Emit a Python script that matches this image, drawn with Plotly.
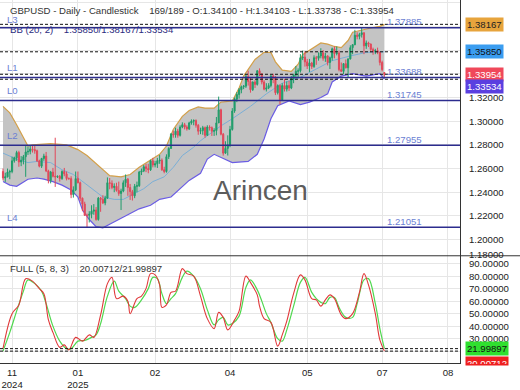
import plotly.graph_objects as go

# ---------------- data ----------------
opens = [
 1.2575,1.2520,1.2530,1.2570,1.2575,1.2665,1.2690,1.2735,1.2655,1.2670,
 1.2700,1.2740,1.2745,1.2765,1.2760,1.2750,1.2665,1.2620,1.2685,1.2705,
 1.2580,1.2500,1.2570,1.2535,1.2530,1.2535,1.2515,1.2575,1.2555,1.2515,
 1.2515,1.2380,1.2420,1.2515,1.2480,1.2350,1.2300,1.2205,1.2205,1.2215,
 1.2240,1.2250,1.2170,1.2350,1.2340,1.2310,1.2350,1.2480,1.2475,1.2440,
 1.2450,1.2415,1.2390,1.2410,1.2480,1.2510,1.2440,1.2405,1.2370,1.2450,
 1.2455,1.2570,1.2580,1.2615,1.2600,1.2590,1.2665,1.2630,1.2640,1.2665,
 1.2670,1.2590,1.2575,1.2700,1.2770,1.2890,1.2885,1.2915,1.2880,1.2950,
 1.2970,1.2950,1.2935,1.2985,1.3000,1.3005,1.2965,1.2915,1.2920,1.2945,
 1.2880,1.2950,1.2945,1.2915,1.2920,1.2985,1.3095,1.2890,1.2730,1.2770,
 1.2800,1.2930,1.3085,1.3185,1.3225,1.3265,1.3290,1.3295,1.3375,1.3335,
 1.3265,1.3330,1.3310,1.3425,1.3400,1.3330,1.3270,1.3280,1.3300,1.3380,
 1.3365,1.3240,1.3300,1.3180,1.3300,1.3270,1.3300,1.3280,1.3360,1.3390,
 1.3420,1.3425,1.3535,1.3540,1.3500,1.3465,1.3490,1.3460,1.3535,1.3530,
 1.3550,1.3575,1.3530,1.3550,1.3495,1.3535,1.3610,1.3570,1.3575,1.3435,
 1.3420,1.3485,1.3450,1.3525,1.3620,1.3645,1.3725,1.3715,1.3730,1.3745,
 1.3635,1.3660,1.3650,1.3605,1.3590,1.3595,1.3580,1.3495,1.34100]
highs = [
 1.2600,1.2565,1.2600,1.2590,1.2700,1.2700,1.2750,1.2750,1.2705,1.2715,
 1.2790,1.2785,1.2790,1.2795,1.2790,1.2760,1.2675,1.2690,1.2725,1.2740,
 1.2590,1.2580,1.2605,1.2860,1.2540,1.2545,1.2585,1.2605,1.2575,1.2525,
 1.2535,1.2450,1.2575,1.2575,1.2490,1.2355,1.2320,1.2220,1.2240,1.2290,
 1.2300,1.2275,1.2360,1.2360,1.2375,1.2370,1.2525,1.2520,1.2500,1.2475,
 1.2480,1.2490,1.2430,1.2500,1.2550,1.2520,1.2470,1.2420,1.2470,1.2490,
 1.2580,1.2600,1.2630,1.2640,1.2640,1.2675,1.2690,1.2665,1.2690,1.2715,
 1.2685,1.2615,1.2720,1.2780,1.2900,1.2920,1.2945,1.2935,1.2965,1.2990,
 1.2985,1.2965,1.2995,1.3015,1.3015,1.3015,1.2975,1.2945,1.2960,1.2955,
 1.2965,1.2965,1.2955,1.2940,1.3035,1.3207,1.3105,1.2900,1.2830,1.2880,
 1.2960,1.3110,1.3200,1.3245,1.3280,1.3300,1.3305,1.3395,1.3425,1.3370,
 1.3335,1.3345,1.3430,1.3445,1.3400,1.3345,1.3320,1.3320,1.3390,1.3400,
 1.3380,1.3310,1.3310,1.3320,1.3355,1.3335,1.3340,1.3380,1.3400,1.3465,
 1.3445,1.3565,1.3595,1.3590,1.3525,1.3525,1.3500,1.3555,1.3550,1.3580,
 1.3615,1.3600,1.3575,1.3555,1.3545,1.3620,1.3630,1.3630,1.3595,1.3495,
 1.3490,1.3520,1.3530,1.3640,1.3650,1.3770,1.3750,1.3745,1.3788,1.3750,
 1.3680,1.3670,1.3655,1.3620,1.3610,1.3620,1.3585,1.3510,1.34103]
lows = [
 1.2500,1.2487,1.2525,1.2510,1.2560,1.2650,1.2665,1.2615,1.2620,1.2635,
 1.2530,1.2715,1.2720,1.2735,1.2725,1.2655,1.2610,1.2605,1.2665,1.2570,
 1.2475,1.2475,1.2525,1.2445,1.2520,1.2490,1.2505,1.2535,1.2500,1.2505,
 1.2350,1.2355,1.2410,1.2475,1.2325,1.2240,1.2200,1.2100,1.2145,1.2180,
 1.2210,1.2160,1.2160,1.2235,1.2300,1.2290,1.2345,1.2425,1.2425,1.2400,
 1.2405,1.2370,1.2250,1.2400,1.2445,1.2370,1.2335,1.2330,1.2350,1.2400,
 1.2445,1.2545,1.2570,1.2570,1.2560,1.2580,1.2610,1.2610,1.2605,1.2640,
 1.2580,1.2560,1.2565,1.2680,1.2765,1.2860,1.2860,1.2860,1.2870,1.2940,
 1.2930,1.2920,1.2925,1.2970,1.2965,1.2945,1.2885,1.2890,1.2885,1.2860,
 1.2875,1.2920,1.2875,1.2875,1.2880,1.2985,1.2880,1.2709,1.2725,1.2710,
 1.2780,1.2920,1.3070,1.3160,1.3190,1.3235,1.3270,1.3280,1.3300,1.3240,
 1.3255,1.3280,1.3300,1.3380,1.3310,1.3260,1.3250,1.3270,1.3285,1.3320,
 1.3220,1.3225,1.3140,1.3170,1.3250,1.3250,1.3255,1.3270,1.3320,1.3365,
 1.3370,1.3410,1.3515,1.3460,1.3440,1.3415,1.3440,1.3450,1.3475,1.3510,
 1.3530,1.3510,1.3500,1.3470,1.3440,1.3510,1.3530,1.3555,1.3420,1.3415,
 1.3395,1.3445,1.3370,1.3520,1.3565,1.3640,1.3690,1.3690,1.3705,1.3565,
 1.3610,1.3625,1.3580,1.3560,1.3565,1.3565,1.3470,1.3420,1.33738]
closes = [
 1.2520,1.2530,1.2570,1.2575,1.2665,1.2690,1.2735,1.2655,1.2670,1.2700,
 1.2740,1.2745,1.2765,1.2760,1.2750,1.2665,1.2620,1.2685,1.2705,1.2580,
 1.2500,1.2570,1.2535,1.2530,1.2535,1.2515,1.2575,1.2555,1.2515,1.2515,
 1.2380,1.2420,1.2515,1.2480,1.2350,1.2300,1.2205,1.2205,1.2215,1.2240,
 1.2250,1.2170,1.2350,1.2340,1.2310,1.2350,1.2480,1.2475,1.2440,1.2450,
 1.2415,1.2390,1.2410,1.2480,1.2510,1.2440,1.2405,1.2370,1.2450,1.2455,
 1.2570,1.2580,1.2615,1.2600,1.2590,1.2665,1.2630,1.2640,1.2665,1.2670,
 1.2590,1.2575,1.2700,1.2770,1.2890,1.2885,1.2915,1.2880,1.2950,1.2970,
 1.2950,1.2935,1.2985,1.3000,1.3005,1.2965,1.2915,1.2920,1.2945,1.2880,
 1.2950,1.2945,1.2915,1.2920,1.2985,1.3095,1.2890,1.2730,1.2770,1.2800,
 1.2930,1.3085,1.3185,1.3225,1.3265,1.3290,1.3295,1.3375,1.3335,1.3265,
 1.3330,1.3310,1.3425,1.3400,1.3330,1.3270,1.3280,1.3300,1.3380,1.3365,
 1.3240,1.3300,1.3180,1.3300,1.3270,1.3300,1.3280,1.3360,1.3390,1.3420,
 1.3425,1.3535,1.3540,1.3500,1.3465,1.3490,1.3460,1.3535,1.3530,1.3550,
 1.3575,1.3530,1.3550,1.3495,1.3535,1.3610,1.3570,1.3575,1.3435,1.3420,
 1.3485,1.3450,1.3525,1.3620,1.3645,1.3725,1.3715,1.3730,1.3745,1.3635,
 1.3660,1.3650,1.3605,1.3590,1.3595,1.3580,1.3495,1.3435,1.33954]

# Bollinger band (20, 2) (bar index, value)
bb_up_x = [0,3,6,9,11,13,21,28,33,37,43,47,52,56,60,65,69,72,75,79,82,86,89,93,96,
           101,104,106,111,115,118,120,123,127,130,132,137,140,143,146,149,152,154,158,163,166,168]
bb_up = [1.3125,1.3070,1.2970,1.2860,1.2790,1.2800,1.2810,1.2800,1.2760,1.2710,
         1.2610,1.2540,1.2530,1.2550,1.2610,1.2670,1.2720,1.2790,1.2930,1.3040,
         1.3090,1.3120,1.3110,1.3110,1.3160,1.3170,1.3280,1.3380,1.3520,1.3580,
         1.3580,1.3500,1.3430,1.3420,1.3480,1.3560,1.3620,1.3660,1.3650,1.3630,
         1.3620,1.3680,1.3750,1.3770,1.3790,1.3800,1.38167]
bb_lo_x = [0,3,6,9,11,15,18,22,26,30,33,35,38,41,44,47,52,56,60,65,69,74,78,82,87,
           90,93,98,101,108,112,115,118,121,126,131,135,140,143,145,149,154,160,166,168]
bb_lo = [1.2490,1.2460,1.2450,1.2490,1.2510,1.2520,1.2510,1.2490,1.2460,1.2420,
         1.2360,1.2250,1.2170,1.2110,1.2100,1.2130,1.2180,1.2220,1.2260,1.2290,
         1.2340,1.2360,1.2430,1.2500,1.2560,1.2680,1.2720,1.2680,1.2650,1.2660,
         1.2720,1.2850,1.3020,1.3130,1.3170,1.3140,1.3160,1.3200,1.3230,1.3330,
         1.3380,1.3400,1.3380,1.3400,1.33534]
bb_mid_x = [0,6,11,15,21,26,31,35,40,44,49,53,57,62,66,71,75,79,84,87,96,101,109,
            116,123,131,138,145,153,160,168]
bb_mid = [1.2730,1.2680,1.2650,1.2660,1.2650,1.2590,1.2550,1.2490,1.2420,1.2360,
          1.2340,1.2340,1.2380,1.2430,1.2490,1.2530,1.2610,1.2710,1.2780,1.2835,
          1.2960,1.3020,1.3125,1.3230,1.3320,1.3370,1.3440,1.3510,1.3550,1.3580,1.3585]

# Full stochastic (5, 8, 3)
k_x = [0,4,7,10,13,16,18,20,22,25,27,29,32,35,38,40,43,46,48,50,53,55,56,59,61,63,65,67,69,70,
       72,74,76,79,81,84,87,90,93,95,97,99,102,104,107,109,112,113,115,118,121,123,125,128,131,
       133,136,138,140,142,144,146,149,151,154,157,159,161,164,166,168]
k_vals = [22,50,57,78,76,70,66,45,35,23,25,21,31,28,33,31,49,74,79,62,64,60,50,62,64,70,82,81,73,55,
          57,67,68,86,82,80,64,46,38,51,47,37,45,52,80,75,65,56,46,43,24,33,44,66,81,
          77,62,61,56,61,65,62,49,46,50,67,82,73,50,29,20.00712]
d_x = [0,3,6,9,11,14,17,19,22,25,28,30,33,36,39,41,43,46,49,51,54,56,58,61,64,66,68,70,72,74,
       76,79,81,84,87,90,93,95,97,99,101,104,107,109,112,114,116,118,121,123,125,128,131,133,
       136,138,140,142,144,146,148,151,154,156,159,161,164,166,168]
d_vals = [20,35,52,68,77,74,68,58,40,28,22,22,28,28.5,31,33,42,64,76,68,62,56,55,61,70,79,78,66,58,62,
          66,79,84,80,70,53,41,45,47,41,42,48,71,77,69,60,50,43,30,28,37,56,75,79,
          67,62,59,58,63,63,55,47,47,58,77,78,58,38,21.99897]

level_names = ["L3", "L1", "L0", "L2", "L4"]
level_values = [1.37885, 1.33688, 1.31745, 1.27955, 1.21051]
level_label_shift = [8, 10, 10, 10, 10]

last_values = [1.38167, 1.35850, 1.33954, 1.33534]
last_colors = ["#e7a43c", "#3b9df0", "#f0485a", "#5a3fe0"]
last_text_colors = ["#222222", "#111111", "#ffffff", "#ffffff"]
last_shift = [0, 0, 0, -7]

stoch_last = [21.99897, 20.00712]

price_ticks = [1.20, 1.22, 1.24, 1.26, 1.28, 1.30, 1.32, 1.34, 1.36, 1.38, 1.40]
price_hidden = [1.34, 1.36, 1.38]          # covered by the value boxes
stoch_ticks = [20, 30, 40, 50, 60, 70, 80, 90]
stoch_hidden = [20]

tick_pos = [4, 33, 67, 100, 134, 167, 196]
tick_text = ["11<br>2024", "01<br>2025", "02", "04", "05", "07", "08"]

header = ("GBPUSD - Daily - Candlestick\u00a0\u00a0\u00a0 169/189 - O:1.34100 - H:1.34103 "
          "- L:1.33738 - C:1.33954")
bb_label = "BB (20, 2)\u00a0\u00a0\u00a0 1.35850/1.38167/1.33534"
stoch_label = "FULL (5, 8, 3)\u00a0\u00a0\u00a0 20.00712/21.99897"

# ---------------- figure ----------------
FONT = "Liberation Sans, Arial, sans-serif"
W, H = 520, 390
ML, MR, MT, MB = 0, 60, 0, 21
PH = H - MT - MB           # plot height in px
SPLIT = 260                # px where lower panel starts
split_frac = (PH - SPLIT) / PH
xr = [-1.32, 201.3]
yr_price = [1.1864, 1.4022]
yr_stoch = [10.5, 96.3]


def py(px):
    """pixel row (from top) -> paper fraction"""
    return (PH - px) / PH


idx = list(range(len(closes)))
fig = go.Figure()

fig.add_trace(go.Scatter(x=bb_up_x, y=bb_up, mode="lines",
                         line=dict(color="#d3a04a", width=1.2), xaxis="x", yaxis="y"))
fig.add_trace(go.Scatter(x=bb_lo_x, y=bb_lo, mode="lines", fill="tonexty",
                         fillcolor="#c4c4c4",
                         line=dict(color="#6a5ce4", width=1.2), xaxis="x", yaxis="y"))
fig.add_trace(go.Scatter(x=bb_mid_x, y=bb_mid, mode="lines",
                         line=dict(color="#7aaed6", width=1), xaxis="x", yaxis="y"))
# candles on an overlaid axis so they are drawn above the band fill
fig.add_trace(go.Candlestick(
    x=idx, open=opens, high=highs, low=lows, close=closes,
    increasing=dict(line=dict(color="#1f9d6a", width=1), fillcolor="#1f9d6a"),
    decreasing=dict(line=dict(color="#e2485a", width=1), fillcolor="#e2485a"),
    whiskerwidth=0, xaxis="x", yaxis="y3"))

fig.add_trace(go.Scatter(x=d_x, y=d_vals, mode="lines", line=dict(color="#4fd84f", width=1.2),
                         line_shape="spline", xaxis="x2", yaxis="y2"))
fig.add_trace(go.Scatter(x=k_x, y=k_vals, mode="lines", line=dict(color="#e0393a", width=1.1),
                         line_shape="spline", xaxis="x2", yaxis="y2"))

shapes = []
for v in level_values:
    shapes.append(dict(type="line", xref="paper", x0=0, x1=1, yref="y", y0=v, y1=v,
                       line=dict(color="#2c2c8e", width=1.5), layer="above"))
for v in last_values:
    shapes.append(dict(type="line", xref="paper", x0=0, x1=1, yref="y", y0=v, y1=v,
                       line=dict(color="#111111", width=1, dash="3px,2px"), layer="above"))
for v in stoch_last:
    shapes.append(dict(type="line", xref="paper", x0=0, x1=1, yref="y2", y0=v, y1=v,
                       line=dict(color="#111111", width=1, dash="3px,2px"), layer="above"))
shapes.append(dict(type="line", xref="paper", x0=0, x1=W / (W - MR), yref="paper",
                   y0=split_frac, y1=split_frac, line=dict(color="#333333", width=1)))

ann = []
ann.append(dict(text=header, xref="paper", yref="paper", x=8 / 460, y=py(10.5),
                xanchor="left", yanchor="middle", showarrow=False,
                font=dict(family=FONT, size=9.6, color="#333333")))
ann.append(dict(text=bb_label, xref="paper", yref="paper", x=8 / 460, y=py(30),
                xanchor="left", yanchor="middle", showarrow=False,
                font=dict(family=FONT, size=9.6, color="#2b2b80")))
ann.append(dict(text=stoch_label, xref="paper", yref="paper", x=8 / 460, y=py(273),
                xanchor="left", yanchor="middle", showarrow=False,
                font=dict(family=FONT, size=9.6, color="#333333")))
ann.append(dict(text="Arincen", xref="paper", yref="paper", x=260 / 460, y=py(194),
                xanchor="center", yanchor="middle", showarrow=False,
                font=dict(family=FONT, size=28, color="#5c5c5c")))
for name, v, s in zip(level_names, level_values, level_label_shift):
    ann.append(dict(text=name, xref="paper", yref="y", x=5 / 460, y=v, yshift=s,
                    xanchor="left", yanchor="middle", showarrow=False,
                    font=dict(family=FONT, size=9.6, color="#6b7fd3")))
    ann.append(dict(text=f"{v:.5f}", xref="paper", yref="y", x=385 / 460, y=v, yshift=6,
                    xanchor="left", yanchor="middle", showarrow=False,
                    font=dict(family=FONT, size=9.6, color="#6b7fd3")))
for v, c, tc, s in zip(last_values, last_colors, last_text_colors, last_shift):
    ann.append(dict(text=f"{v:.5f}", xref="paper", yref="y", x=1, xshift=5, y=v, yshift=s,
                    xanchor="left", yanchor="middle", showarrow=False, bgcolor=c,
                    borderpad=1, font=dict(family=FONT, size=9.6, color=tc)))
ann.append(dict(text=f"{stoch_last[0]:.5f}", xref="paper", yref="y2", x=1, xshift=5,
                y=stoch_last[0], xanchor="left", yanchor="middle", showarrow=False,
                bgcolor="#2fe02f", borderpad=1, font=dict(family=FONT, size=9.6, color="#111111")))
ann.append(dict(text=f"{stoch_last[1]:.5f}", xref="paper", yref="paper", x=1, xshift=5,
                y=py(362), xanchor="left", yanchor="top", showarrow=False, height=6,
                valign="top", bgcolor="#ee2020", borderpad=1,
                font=dict(family=FONT, size=9.6, color="#ffffff")))
ann.append(dict(text="1.18000", xref="paper", yref="paper", x=1, xshift=7, y=py(259),
                xanchor="left", yanchor="middle", showarrow=False,
                font=dict(family=FONT, size=9.6, color="#222222")))

axis_font = dict(family=FONT, size=9.6, color="#222222")
price_text = ["" if t in price_hidden else f"{t:.5f}" for t in price_ticks]
stoch_text = ["" if t in stoch_hidden else f"{t:.5f}" for t in stoch_ticks]

fig.update_layout(
    width=W, height=H, margin=dict(l=ML, r=MR, t=MT, b=MB),
    paper_bgcolor="white", plot_bgcolor="white", showlegend=False, hovermode=False,
    font=dict(family=FONT),
    xaxis=dict(domain=[0, 1], range=xr, anchor="y", tickvals=tick_pos, showticklabels=False,
               showgrid=True, gridcolor="#e6e6e6", zeroline=False, showline=False,
               rangeslider=dict(visible=False), ticks=""),
    yaxis=dict(domain=[split_frac, 1], range=yr_price, side="right", anchor="x",
               tickvals=price_ticks, ticktext=price_text, showgrid=True, gridcolor="#e6e6e6",
               zeroline=False, showline=True, linecolor="#333333", linewidth=1, ticks="",
               ticklabelstandoff=6, tickfont=axis_font),
    yaxis3=dict(domain=[split_frac, 1], range=yr_price, overlaying="y", side="right",
                anchor="x", showgrid=False, showticklabels=False, zeroline=False,
                showline=False, ticks=""),
    xaxis2=dict(domain=[0, 1], range=xr, anchor="y2", tickvals=tick_pos, ticktext=tick_text,
                showgrid=True, gridcolor="#e6e6e6", zeroline=False, showline=True,
                linecolor="#333333", linewidth=1, ticks="", tickfont=axis_font,
                ticklabelstandoff=0),
    yaxis2=dict(domain=[0, split_frac], range=yr_stoch, side="right", anchor="x2",
                tickvals=stoch_ticks, ticktext=stoch_text, showgrid=True, gridcolor="#e6e6e6",
                zeroline=False, showline=True, linecolor="#333333", linewidth=1, ticks="",
                ticklabelstandoff=6, tickfont=axis_font),
    shapes=shapes, annotations=ann,
)

fig.write_html("out.html")
